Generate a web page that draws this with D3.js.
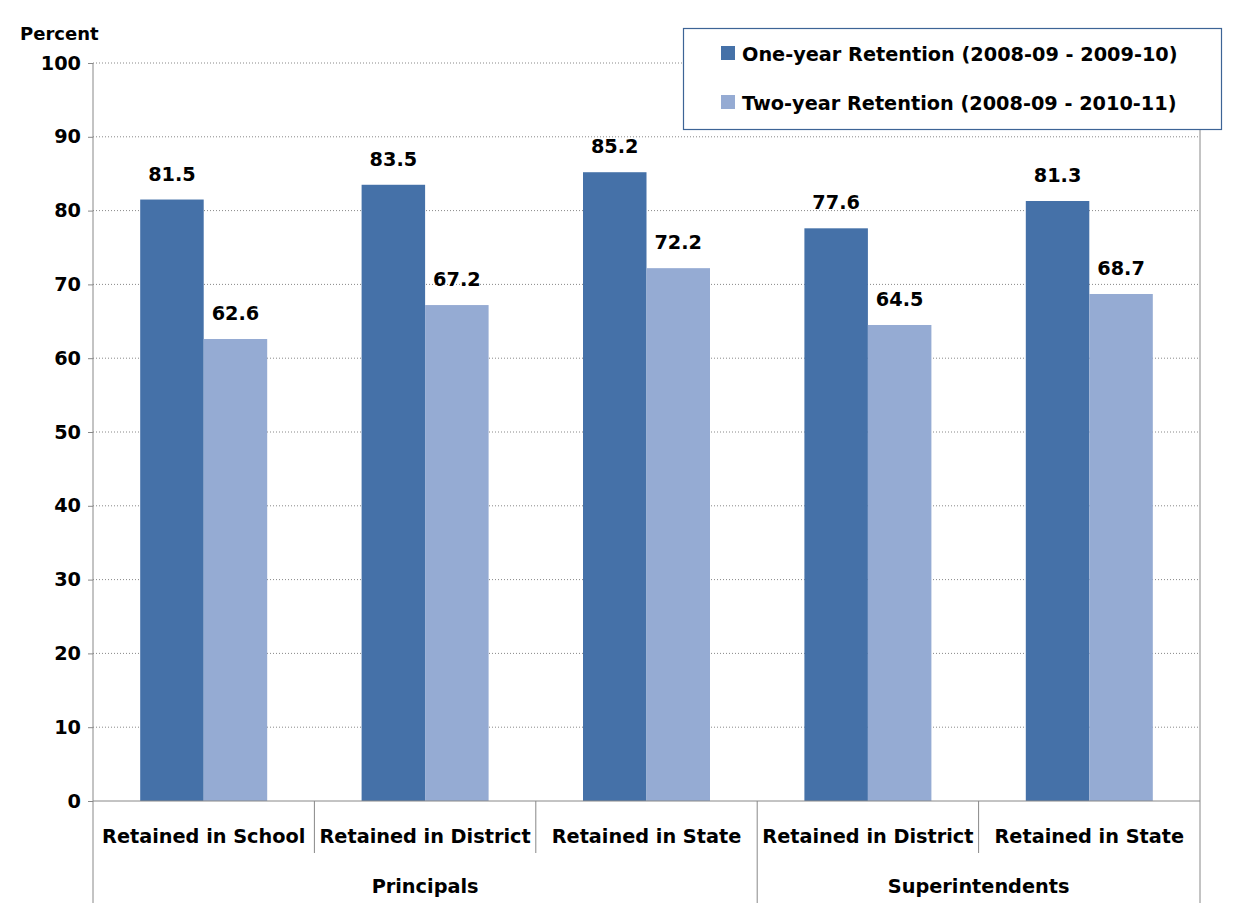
<!DOCTYPE html><html><head><script src="https://cdn.jsdelivr.net/npm/d3@7"></script>
<style>body{margin:0;background:#fff}text{font-family:"DejaVu Sans",sans-serif;font-weight:bold;fill:#000}</style></head><body>
<svg id="c" width="1236" height="903"></svg>
<script>
const categories=["Retained in School","Retained in District","Retained in State","Retained in District","Retained in State"];
const groups=[{name:"Principals",n:3},{name:"Superintendents",n:2}];
const seriesNames=["One-year Retention (2008-09 - 2009-10)","Two-year Retention (2008-09 - 2010-11)"];
const oneYear=[81.5,83.5,85.2,77.6,81.3];
const twoYear=[62.6,67.2,72.2,64.5,68.7];
const yTicks=[0,10,20,30,40,50,60,70,80,90,100];
const colors=["#4571A8","#95ABD3"];
const FS=19.3;
const svg=d3.select("#c");
const L=93,R=1200,T=63,B=801;
const x=d3.scaleBand().domain(d3.range(categories.length)).range([L,R]);
const y=d3.scaleLinear().domain([0,100]).range([B,T]);
svg.append("g").selectAll("line").data(yTicks.filter(d=>d>0)).join("line")
 .attr("x1",L).attr("x2",R).attr("y1",d=>y(d)).attr("y2",d=>y(d))
 .attr("stroke","#888").attr("stroke-dasharray","1,2");
svg.append("line").attr("x1",R).attr("x2",R).attr("y1",T).attr("y2",903).attr("stroke","#888");
const bw=63.5;
[oneYear,twoYear].forEach((vals,s)=>{
 const g=svg.append("g");
 g.selectAll("rect").data(vals).join("rect")
  .attr("x",(d,i)=>x(i)+x.bandwidth()/2-bw+s*bw).attr("width",bw)
  .attr("y",d=>y(d)).attr("height",d=>B-y(d)).attr("fill",colors[s]);
 g.selectAll("text").data(vals).join("text")
  .attr("x",(d,i)=>x(i)+x.bandwidth()/2-bw/2+s*bw).attr("y",d=>y(d)-19)
  .attr("text-anchor","middle").attr("font-size",FS).text(d=>d.toFixed(1));
});
const ya=svg.append("g").attr("transform",`translate(${L},0)`).call(d3.axisLeft(y).tickValues(yTicks).tickSize(5).tickSizeOuter(0));
ya.select(".domain").remove();
ya.selectAll("line").attr("stroke","#888");
ya.selectAll("text").attr("font-size",FS).attr("font-family","DejaVu Sans").attr("font-weight","bold").attr("fill","#000").attr("x",-12);
svg.append("line").attr("x1",L).attr("x2",L).attr("y1",T).attr("y2",903).attr("stroke","#888");
svg.append("line").attr("x1",L).attr("x2",R).attr("y1",B).attr("y2",B).attr("stroke","#888");
svg.append("text").attr("x",20).attr("y",40).attr("font-size",18).text("Percent");
svg.append("g").selectAll("text").data(categories).join("text")
 .attr("x",(d,i)=>x(i)+x.bandwidth()/2).attr("y",843).attr("text-anchor","middle").attr("font-size",FS).text(d=>d);
svg.append("g").selectAll("line").data(d3.range(1,categories.length)).join("line")
 .attr("x1",i=>x(i)).attr("x2",i=>x(i)).attr("y1",B).attr("y2",853).attr("stroke","#888");
let start=0;
groups.forEach(g=>{
 const x0=x(start),x1=x(start+g.n-1)+x.bandwidth();
 svg.append("text").attr("x",(x0+x1)/2).attr("y",893).attr("text-anchor","middle").attr("font-size",FS).text(g.name);
 if(start>0) svg.append("line").attr("x1",x0).attr("x2",x0).attr("y1",853).attr("y2",903).attr("stroke","#888");
 start+=g.n;
});
svg.append("rect").attr("x",683.5).attr("y",28.5).attr("width",538).attr("height",101).attr("fill","#fff").attr("stroke","#3D6496").attr("stroke-width",1.2);
seriesNames.forEach((n,i)=>{
 svg.append("rect").attr("x",721).attr("y",46+i*49).attr("width",14).attr("height",14).attr("fill",colors[i]);
 svg.append("text").attr("x",742).attr("y",61+i*49).attr("font-size",FS).text(n);
});
</script></body></html>
